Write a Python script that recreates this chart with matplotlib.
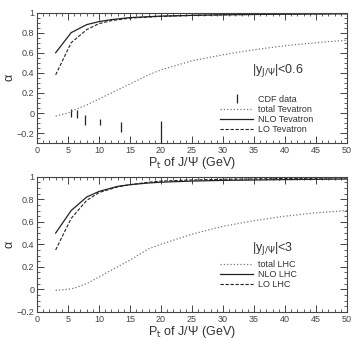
import numpy as np
import matplotlib
matplotlib.use("Agg")
import matplotlib.pyplot as plt
from matplotlib.ticker import MultipleLocator

plt.rcParams['font.family'] = ['Liberation Sans', 'DejaVu Sans']
plt.rcParams['mathtext.fontset'] = 'dejavusans'

# Tevatron (|y| < 0.6)
pt_nlo_tev = [3, 5.5, 8, 10, 12, 15, 20, 25, 30, 40, 50]
nlo_tev = [0.60, 0.80, 0.88, 0.91, 0.93, 0.95, 0.965, 0.972, 0.978, 0.984, 0.988]
pt_lo_tev = [3, 5.5, 8, 10, 12, 15, 20, 25, 30, 40, 50]
lo_tev = [0.38, 0.70, 0.83, 0.89, 0.92, 0.945, 0.962, 0.972, 0.978, 0.985, 0.99]
pt_tot_tev = [3, 5, 6, 8, 10, 12, 15, 18, 20, 25, 30, 35, 40, 45, 50]
tot_tev = [-0.03, 0.0, 0.03, 0.08, 0.14, 0.20, 0.29, 0.38, 0.43, 0.52, 0.58, 0.63, 0.67, 0.70, 0.725]

# CDF data points
pt_cdf = [5.5, 6.45, 7.8, 10.1, 13.6, 20.0]
alpha_cdf = [0.0, -0.01, -0.07, -0.09, -0.14, -0.19]
err_cdf = [0.04, 0.037, 0.047, 0.033, 0.053, 0.11]

# LHC (|y| < 3)
pt_nlo_lhc = [3, 5.5, 8, 10, 13, 15, 18, 20, 25, 30, 40, 50]
nlo_lhc = [0.50, 0.70, 0.82, 0.87, 0.915, 0.93, 0.945, 0.952, 0.962, 0.968, 0.975, 0.98]
pt_lo_lhc = [3, 5.5, 8, 10, 13, 15, 18, 20, 25, 30, 40, 50]
lo_lhc = [0.35, 0.63, 0.79, 0.86, 0.91, 0.93, 0.952, 0.962, 0.972, 0.978, 0.985, 0.99]
pt_tot_lhc = [3, 5, 6, 8, 10, 12, 15, 18, 20, 25, 30, 35, 40, 45, 50]
tot_lhc = [-0.01, 0.0, 0.01, 0.05, 0.11, 0.17, 0.26, 0.36, 0.40, 0.49, 0.56, 0.61, 0.65, 0.68, 0.70]

fig = plt.figure(figsize=(3.53, 3.40), dpi=100)
ax1 = fig.add_axes([0.105, 0.579, 0.878, 0.384])
ax2 = fig.add_axes([0.105, 0.083, 0.878, 0.397])

lc = '#222222'
tc = '#333333'


def style_axes(ax, ymin):
    ax.set_xlim(0, 50)
    ax.set_ylim(ymin, 1)
    ax.xaxis.set_major_locator(MultipleLocator(5))
    ax.xaxis.set_minor_locator(MultipleLocator(1))
    ax.set_yticks([-0.2, 0, 0.2, 0.4, 0.6, 0.8, 1])
    ax.set_yticklabels(['\u22120.2', '0', '0.2', '0.4', '0.6', '0.8', '1'])
    ax.yaxis.set_minor_locator(MultipleLocator(0.05))
    ax.tick_params(which='both', direction='in', top=True, right=True,
                   labelsize=6.5, colors='#444444', pad=2)
    ax.tick_params(which='major', length=5, width=0.7)
    ax.tick_params(which='minor', length=2.5, width=0.6)
    for s in ax.spines.values():
        s.set_linewidth(0.8)
        s.set_color('#444444')
    ax.set_xlabel('P$_{\\rm t}$ of J/\u03a8 (GeV)', fontsize=9, color=tc, labelpad=0)
    ax.set_ylabel('\u03b1', fontsize=9, color=tc, labelpad=1)


style_axes(ax1, -0.3)
ax1.errorbar(pt_cdf, alpha_cdf, yerr=err_cdf, fmt='none', ecolor=lc,
             elinewidth=0.9, capsize=0, label='CDF data')
ax1.plot(pt_tot_tev, tot_tev, ls=':', color='#777777', lw=0.9, label='total Tevatron')
ax1.plot(pt_nlo_tev, nlo_tev, ls='-', color=lc, lw=0.9, label='NLO Tevatron')
ax1.plot(pt_lo_tev, lo_tev, ls=(0, (3, 1.5)), color=lc, lw=0.8, label='LO Tevatron')
ax1.text(0.695, 0.56, '|y$_{\\rm J/\u03a8}$|<0.6', transform=ax1.transAxes,
         fontsize=9, color=tc, va='center')
h, l = ax1.get_legend_handles_labels()
order = [l.index('CDF data'), l.index('total Tevatron'), l.index('NLO Tevatron'), l.index('LO Tevatron')]
ax1.legend([h[i] for i in order], [l[i] for i in order],
           loc='upper left', bbox_to_anchor=(0.59, 0.37), frameon=False,
           fontsize=6.5, handlelength=3.7, handletextpad=0.55,
           labelspacing=0.12, borderpad=0, borderaxespad=0, labelcolor=tc)

style_axes(ax2, -0.2)
ax2.plot(pt_tot_lhc, tot_lhc, ls=':', color='#777777', lw=0.9, label='total LHC')
ax2.plot(pt_nlo_lhc, nlo_lhc, ls='-', color=lc, lw=0.9, label='NLO LHC')
ax2.plot(pt_lo_lhc, lo_lhc, ls=(0, (3, 1.5)), color=lc, lw=0.8, label='LO LHC')
ax2.text(0.695, 0.47, '|y$_{\\rm J/\u03a8}$|<3', transform=ax2.transAxes,
         fontsize=9, color=tc, va='center')
ax2.legend(loc='upper left', bbox_to_anchor=(0.59, 0.385), frameon=False,
           fontsize=6.5, handlelength=3.7, handletextpad=0.55,
           labelspacing=0.12, borderpad=0, borderaxespad=0, labelcolor=tc)

fig.savefig('out.png', dpi=100)
